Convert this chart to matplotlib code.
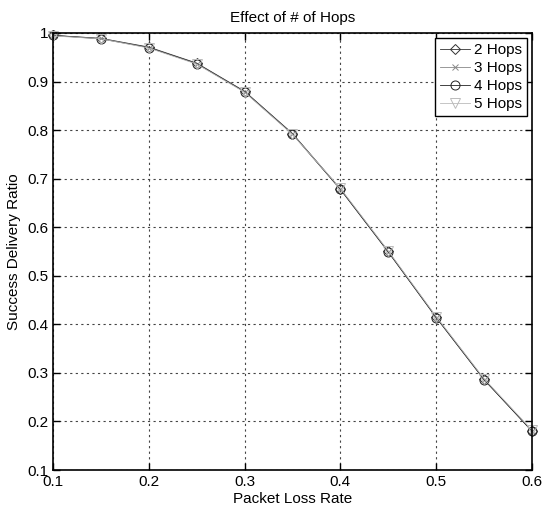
import matplotlib
matplotlib.use("Agg")
import matplotlib.pyplot as plt

plt.rcParams['font.family'] = ['Liberation Sans', 'DejaVu Sans']

x = [0.1, 0.15, 0.2, 0.25, 0.3, 0.35, 0.4, 0.45, 0.5, 0.55, 0.6]
hops2 = [0.995, 0.989, 0.971, 0.938, 0.880, 0.793, 0.679, 0.550, 0.415, 0.287, 0.180]
hops3 = [0.995, 0.989, 0.970, 0.937, 0.879, 0.792, 0.678, 0.549, 0.414, 0.286, 0.181]
hops4 = [0.995, 0.988, 0.970, 0.937, 0.879, 0.792, 0.678, 0.549, 0.414, 0.286, 0.180]
hops5 = [0.994, 0.988, 0.969, 0.936, 0.878, 0.791, 0.680, 0.551, 0.416, 0.288, 0.182]
labels = ['2 Hops', '3 Hops', '4 Hops', '5 Hops']

fig = plt.figure(figsize=(5.43, 5.07), dpi=100)
ax = fig.add_axes([53/543, 1-470/507, (532-53)/543, (470-33)/507])

styles = [
    dict(color='#333333', marker='D', markersize=5, markerfacecolor='none'),
    dict(color='#888888', marker='x', markersize=5),
    dict(color='#222222', marker='o', markersize=6.5, markerfacecolor='none'),
    dict(color='#bbbbbb', marker='v', markersize=6.5, markerfacecolor='none'),
]
for ys, lab, st in zip([hops2, hops3, hops4, hops5], labels, styles):
    ax.plot(x, ys, label=lab, linewidth=0.6, markeredgewidth=0.7, clip_on=False, **st)

ax.set_xlim(0.1, 0.6)
ax.set_ylim(0.1, 1.0)
ax.set_xticks([0.1, 0.2, 0.3, 0.4, 0.5, 0.6])
ax.set_xticklabels(['0.1', '0.2', '0.3', '0.4', '0.5', '0.6'])
ax.set_yticks([0.1, 0.2, 0.3, 0.4, 0.5, 0.6, 0.7, 0.8, 0.9, 1.0])
ax.set_yticklabels(['0.1', '0.2', '0.3', '0.4', '0.5', '0.6', '0.7', '0.8', '0.9', '1'])
ax.tick_params(direction='in', length=5, labelsize=11, top=True, right=True, width=1)
ax.grid(True, linestyle=(0, (2, 3)), color='#444444', linewidth=0.8)
for s in ax.spines.values():
    s.set_linewidth(1.2)
ax.set_xlabel('Packet Loss Rate', fontsize=11, labelpad=2)
ax.set_ylabel('Success Delivery Ratio', fontsize=11, labelpad=4)
ax.set_title('Effect of # of Hops', fontsize=11, pad=8)
leg = ax.legend(loc='upper right', fontsize=11, fancybox=False, framealpha=1,
                edgecolor='black', borderaxespad=0.35, handlelength=2.0,
                handletextpad=0.25, borderpad=0.3, labelspacing=0.27)
leg.get_frame().set_linewidth(1.0)

fig.savefig('out.png', dpi=100)
